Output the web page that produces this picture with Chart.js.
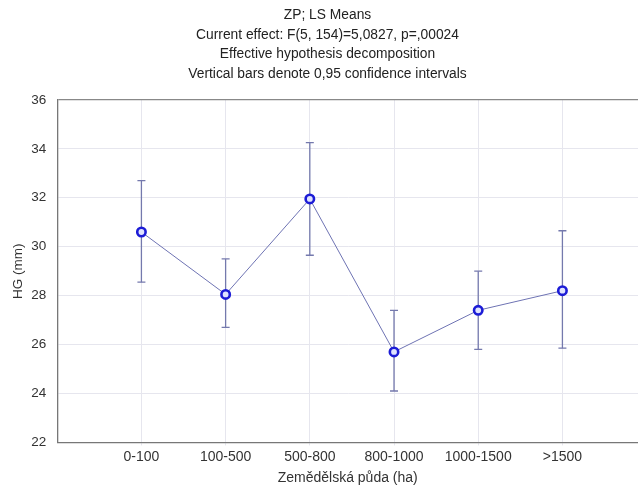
<!DOCTYPE html>
<html>
<head>
  <title>ZP; LS Means</title>
  <script src="https://cdn.jsdelivr.net/npm/chart.js"></script>
  <style>
    body {
      margin: 0;
      background-color: #fff;
      overflow: hidden;
    }

    /* a bit wider than the window so the plot runs to the right edge */
    .chart-container {
      width: 645px;
      height: 489px;
    }
  </style>
</head>
<body>
<div class="chart-container">
  <canvas id="lsChart"></canvas>
</div>

<script>
  const categories = ['0-100', '100-500', '500-800', '800-1000', '1000-1500', '>1500'];
  const means = [30.6, 28.05, 31.95, 25.7, 27.4, 28.2];
  const lower = [28.55, 26.7, 29.65, 24.1, 25.8, 25.85];
  const upper = [32.7, 29.5, 34.25, 27.4, 29.0, 30.65];
  const yTicks = [22, 24, 26, 28, 30, 32, 34, 36];

  const titleLines = [
    'ZP; LS Means',
    'Current effect: F(5, 154)=5,0827, p=,00024',
    'Effective hypothesis decomposition',
    'Vertical bars denote 0,95 confidence intervals'
  ];

  // error bars as one broken line: low, high, gap
  const barPoints = [];
  categories.forEach((c, i) => {
    barPoints.push({ x: i, y: lower[i] });
    barPoints.push({ x: i, y: upper[i] });
    barPoints.push({ x: i, y: null });
  });

  Chart.defaults.font.family = '"Liberation Sans", Arial, sans-serif';
  Chart.defaults.color = '#333';

  new Chart(document.getElementById('lsChart').getContext('2d'), {
    type: 'line',
    data: {
      datasets: [
        {
          label: 'HG',
          data: means.map((v, i) => ({ x: i, y: v })),
          borderColor: '#6e73b3',
          borderWidth: 1,
          pointStyle: 'circle',
          pointRadius: 4.2,
          pointBorderWidth: 2.6,
          pointBorderColor: '#1c1cd6',
          pointBackgroundColor: '#dfe3ff',
          order: 0
        },
        {
          label: 'CI',
          data: barPoints,
          borderColor: '#7479ad',
          borderWidth: 1.3,
          spanGaps: false,
          pointStyle: 'line',
          pointRadius: 4,
          pointBorderWidth: 1.3,
          pointBorderColor: '#7479ad',
          order: 1
        }
      ]
    },
    options: {
      responsive: true,
      maintainAspectRatio: false,
      animation: false,
      layout: { padding: { left: 10, right: 0, top: 0, bottom: 2 } },
      plugins: {
        legend: { display: false },
        tooltip: { enabled: false },
        title: {
          display: true,
          text: titleLines,
          font: { size: 13.8, weight: 'normal', lineHeight: 1.42 },
          color: '#222',
          padding: { top: 5.5, bottom: 16 }
        }
      },
      scales: {
        x: {
          type: 'linear',
          min: -1,
          max: 5.9,
          afterBuildTicks: axis => {
            axis.ticks = categories.map((c, i) => ({ value: i }));
          },
          ticks: {
            callback: v => categories[v] ?? '',
            font: { size: 14 },
            color: '#333',
            padding: 3,
            maxRotation: 0
          },
          grid: { color: '#e6e6ee', tickLength: 3 },
          border: { color: '#777', width: 1.3 },
          title: {
            display: true,
            text: 'Zemědělská půda (ha)',
            font: { size: 14 },
            color: '#333',
            padding: { top: 2, bottom: 0 }
          }
        },
        y: {
          min: 22,
          max: 36,
          afterBuildTicks: axis => {
            axis.ticks = yTicks.map(v => ({ value: v }));
          },
          ticks: {
            font: { size: 13.5 },
            color: '#333',
            padding: 11
          },
          grid: {
            color: ctx => ctx.tick && ctx.tick.value === 36 ? '#888' : '#e6e6ee',
            lineWidth: ctx => ctx.tick && ctx.tick.value === 36 ? 1.3 : 1,
            tickLength: 0
          },
          border: { color: '#777', width: 1.3 },
          title: {
            display: true,
            text: 'HG (mm)',
            font: { size: 13.5 },
            color: '#333',
            padding: { top: 0, bottom: -6 }
          }
        }
      }
    }
  });
</script>
</body>
</html>
